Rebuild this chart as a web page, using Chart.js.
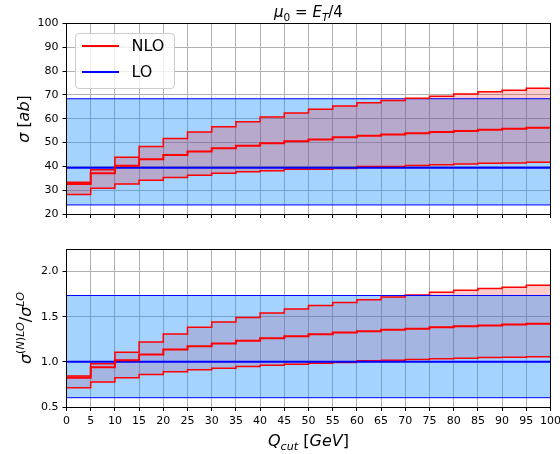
<!DOCTYPE html>
<html>
<head>
<meta charset="utf-8">
<script src="https://cdn.jsdelivr.net/npm/chart.js@4/dist/chart.umd.min.js"></script>
<style>
html,body{margin:0;padding:0;background:#fff;}
#wrap{position:relative;width:560px;height:454px;overflow:hidden;font-family:"DejaVu Sans",sans-serif;color:#000;}
canvas{position:absolute;left:0;}
.lbl{position:absolute;white-space:nowrap;font-size:16px;line-height:1;z-index:3;}
.sub{font-size:70%;position:relative;top:0.35em;}
.sup{font-size:70%;position:relative;top:-0.6em;}
.rot{transform:translate(-50%,-50%) rotate(-90deg);}
.ctr{transform:translateX(-50%);}
i{font-style:italic;}
.legbox{position:absolute;left:75px;top:32.5px;width:100px;height:56px;box-sizing:border-box;border:1px solid #cccccc;border-radius:4px;background:rgba(255,255,255,0.8);z-index:2;}
.legline{position:absolute;left:81.5px;width:37px;height:2px;z-index:3;}
</style>
</head>
<body>
<div id="wrap">
  <canvas id="cTop" width="560" height="230" style="top:0;width:560px;height:230px"></canvas>
  <canvas id="cBot" width="560" height="224" style="top:230px;width:560px;height:224px"></canvas>

  <div class="lbl ctr" style="left:308.5px;top:5px;font-size:15px;"><i>μ</i><span class="sub">0</span> = <i>E</i><span class="sub"><i>T</i></span>/4</div>

  <div class="legbox"></div>
  <div class="legline" style="top:45px;background:#ff0000;"></div>
  <div class="lbl" style="left:131.5px;top:38.2px;">NLO</div>
  <div class="legline" style="top:70.7px;background:#0000ff;"></div>
  <div class="lbl" style="left:131.5px;top:63.8px;">LO</div>

  <div class="lbl rot" style="left:23.8px;top:119px;"><i>σ</i> [<i>ab</i>]</div>
  <div class="lbl rot" style="left:25.5px;top:328px;"><i>σ</i><span class="sup">(<i>N</i>)<i>LO</i></span>/<i>σ</i><span class="sup"><i>LO</i></span></div>
  <div class="lbl ctr" style="left:308.5px;top:433px;"><i>Q</i><span class="sub"><i>cut</i></span> [<i>GeV</i>]</div>
</div>

<script>
// ---- data ----
const binEdges = [0,5,10,15,20,25,30,35,40,45,50,55,60,65,70,75,80,85,90,95,100];
const xTickValues = [0,5,10,15,20,25,30,35,40,45,50,55,60,65,70,75,80,85,90,95,100];
const sigmaTicks = [20,30,40,50,60,70,80,90,100];
const ratioTicks = [0.5,1.0,1.5,2.0];

// top panel: cross sections [ab]
const sigmaNLO     = [32.6,37.1,40.3,43.0,44.8,46.2,47.6,48.7,49.7,50.5,51.3,52.2,52.9,53.4,53.9,54.4,54.9,55.4,55.8,56.2];
const sigmaNLOUp   = [33.3,38.6,43.8,48.3,51.7,54.4,56.6,58.7,60.7,62.4,64.0,65.4,66.7,67.7,68.6,69.5,70.4,71.3,72.0,72.8];
const sigmaNLODown = [28.2,30.8,32.6,34.2,35.3,36.3,37.1,37.7,38.2,38.8,38.8,39.1,39.9,40.0,40.4,40.7,41.0,41.3,41.4,41.7];
const sigmaLO = 39.4, sigmaLOUp = 68.4, sigmaLODown = 23.8;

// bottom panel: ratios to LO central
const ratioNLO     = [0.824,0.941,1.018,1.081,1.136,1.173,1.202,1.235,1.261,1.283,1.305,1.324,1.338,1.357,1.368,1.382,1.393,1.404,1.415,1.423];
const ratioNLOUp   = [0.842,0.978,1.106,1.221,1.309,1.382,1.441,1.492,1.541,1.585,1.625,1.658,1.688,1.717,1.740,1.772,1.794,1.812,1.827,1.849];
const ratioNLODown = [0.714,0.776,0.824,0.861,0.890,0.912,0.930,0.949,0.963,0.974,0.985,0.993,1.011,1.018,1.026,1.034,1.040,1.048,1.051,1.056];
const ratioLO = 1.0, ratioLOUp = 1.735, ratioLODown = 0.603;

// ---- helpers ----
Chart.defaults.font.family = "'DejaVu Sans', sans-serif";
Chart.defaults.color = '#000';

function stepPts(vals){
  const p = [];
  vals.forEach((v,i) => { p.push({x: binEdges[i], y: v}); p.push({x: binEdges[i+1], y: v}); });
  return p;
}
function flatPts(v){
  return [{x: binEdges[0], y: v}, {x: binEdges[binEdges.length-1], y: v}];
}
function ds(data, color, width, order, fillTarget, bg){
  return {
    data: data, borderColor: color, borderWidth: width, order: order,
    fill: fillTarget === undefined ? false : {target: fillTarget},
    backgroundColor: bg || 'rgba(0,0,0,0)',
    pointRadius: 0, tension: 0
  };
}
const RED = '#ff0000', BLUE = '#0000ff';
const RED_FILL = 'rgba(255,0,0,0.2)', BLUE_FILL = 'rgba(30,144,255,0.4)';

const framePlugin = {
  id: 'frame',
  afterDraw(c){
    const ctx = c.ctx, a = c.chartArea;
    const al = v => Math.round(v - 0.5) + 0.5;
    ctx.save();
    ctx.strokeStyle = '#000';
    ctx.lineWidth = 1;
    ctx.strokeRect(al(a.left), al(a.top), al(a.right) - al(a.left), al(a.bottom) - al(a.top));
    ctx.restore();
  }
};

function makeOptions(yMin, yMax, yTicks, yFmt, showXLabels, xHeight, padTop){
  const gridCfg = {color: '#b0b0b0', lineWidth: 1, tickColor: '#000', tickLength: 4, drawTicks: true};
  return {
    responsive: false, animation: false, events: [],
    layout: {padding: {top: padTop, right: 9.5, left: 0, bottom: 0}},
    plugins: {legend: {display: false}, tooltip: {enabled: false}, title: {display: false},
              filler: {drawTime: 'beforeDatasetsDraw'}},
    scales: {
      x: {
        type: 'linear', min: binEdges[0], max: binEdges[binEdges.length-1],
        afterBuildTicks: s => { s.ticks = xTickValues.map(v => ({value: v})); },
        afterFit: s => { s.height = xHeight; s.paddingLeft = 0; s.paddingRight = 0; },
        grid: gridCfg, border: {display: false},
        ticks: {display: showXLabels, autoSkip: false, maxRotation: 0, minRotation: 0, padding: 4,
                color: '#000', font: {size: 11}, callback: v => String(v)}
      },
      y: {
        type: 'linear', min: yMin, max: yMax,
        afterBuildTicks: s => { s.ticks = yTicks.map(v => ({value: v})); },
        afterFit: s => { s.width = 66.5; s.paddingTop = 0; s.paddingBottom = 0; },
        grid: gridCfg, border: {display: false},
        ticks: {padding: 4, color: '#000', font: {size: 11}, callback: yFmt}
      }
    }
  };
}

// ---- top chart ----
new Chart(document.getElementById('cTop'), {
  type: 'line',
  data: {datasets: [
    ds(stepPts(sigmaNLO), RED, 2, 0),
    ds(flatPts(sigmaLO), BLUE, 2, 1),
    ds(stepPts(sigmaNLOUp), RED, 1.5, 2, 3, RED_FILL),
    ds(stepPts(sigmaNLODown), RED, 1.5, 3),
    ds(flatPts(sigmaLOUp), BLUE, 1, 4, 5, BLUE_FILL),
    ds(flatPts(sigmaLODown), BLUE, 1, 5)
  ]},
  options: makeOptions(sigmaTicks[0], sigmaTicks[sigmaTicks.length-1], sigmaTicks, v => String(v), false, 16, 23.5),
  plugins: [framePlugin]
});

// ---- bottom chart ----
new Chart(document.getElementById('cBot'), {
  type: 'line',
  data: {datasets: [
    ds(stepPts(ratioNLO), RED, 2, 0),
    ds(flatPts(ratioLO), BLUE, 2, 1),
    ds(flatPts(ratioLOUp), BLUE, 1, 2, 3, BLUE_FILL),
    ds(flatPts(ratioLODown), BLUE, 1, 3),
    ds(stepPts(ratioNLOUp), RED, 1.5, 4, 5, RED_FILL),
    ds(stepPts(ratioNLODown), RED, 1.5, 5)
  ]},
  options: makeOptions(0.5, 2.25, ratioTicks, v => Number(v).toFixed(1), true, 47, 19),
  plugins: [framePlugin]
});
</script>
</body>
</html>
